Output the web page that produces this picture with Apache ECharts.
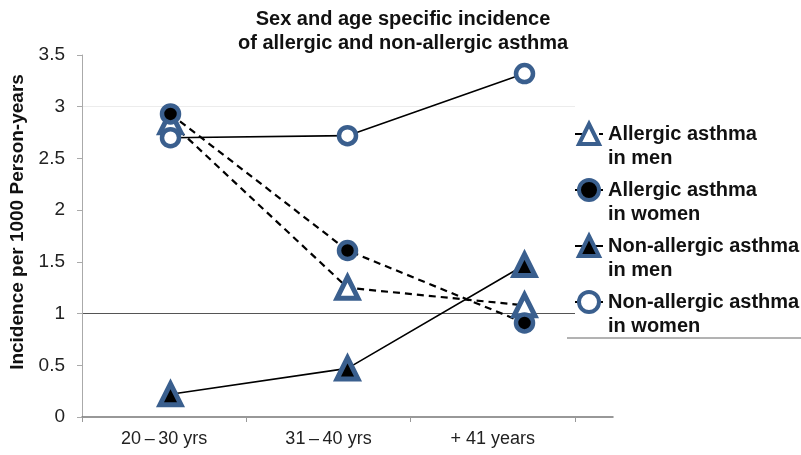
<!DOCTYPE html>
<html>
<head>
<meta charset="utf-8">
<script src="https://cdn.jsdelivr.net/npm/echarts@6/dist/echarts.min.js"></script>
<style>html,body{margin:0;padding:0;background:#fff}#c{width:801px;height:455px}</style>
</head>
<body>
<div id="c"></div>
<script>
const categories = ['20\u2009\u2013\u200930 yrs', '31\u2009\u2013\u200940 yrs', '+ 41 years'];
const allergicMen = [2.85, 1.25, 1.08];
const allergicWomen = [2.93, 1.61, 0.91];
const nonAllergicMen = [0.22, 0.47, 1.47];
const nonAllergicWomen = [2.70, 2.72, 3.32];
const seriesNames = ['Allergic asthma in men', 'Allergic asthma in women', 'Non-allergic asthma in men', 'Non-allergic asthma in women'];
const legendLines = {
  'Allergic asthma in men': ['Allergic asthma', 'in men'],
  'Allergic asthma in women': ['Allergic asthma', 'in women'],
  'Non-allergic asthma in men': ['Non-allergic asthma', 'in men'],
  'Non-allergic asthma in women': ['Non-allergic asthma', 'in women']
};

const BLUE = '#3a5f8e';
const FONT = '"Liberation Sans", Arial, sans-serif';
const chart = echarts.init(document.getElementById('c'));

function mk(name, data, symbol, fill, dashed) {
  return {
    name: name,
    type: 'line',
    xAxisIndex: 1,
    yAxisIndex: 1,
    data: data,
    symbol: symbol,
    symbolSize: symbol === 'circle' ? 17 : 21,
    showSymbol: true,
    lineStyle: { color: '#000', width: dashed ? 2.2 : 1.6, type: dashed ? [7, 5] : 'solid' },
    itemStyle: { color: fill, borderColor: BLUE, borderWidth: symbol === 'circle' ? 4.5 : 5 },
    emphasis: { disabled: true },
    animation: false
  };
}

const legendText = { fontFamily: FONT, fontSize: 20, fontWeight: 'bold', color: '#111', lineHeight: 24 };

chart.setOption({
  animation: false,
  title: {
    text: 'Sex and age specific incidence\nof allergic and non-allergic asthma',
    left: 398, textAlign: 'center', top: 2,
    textStyle: { fontFamily: FONT, fontSize: 20, fontWeight: 'bold', color: '#111', lineHeight: 24 }
  },
  grid: [
    { left: 82, top: 55, width: 493, height: 362 },
    { left: 82, top: 55, width: 531, height: 362 }
  ],
  xAxis: [
    {
      gridIndex: 0, type: 'category', data: categories,
      axisLine: { show: false },
      axisTick: { show: true, length: 5, inside: false, lineStyle: { color: '#999' } },
      axisLabel: { margin: 13, fontFamily: FONT, fontSize: 18, color: '#222' },
      splitLine: { show: false }
    },
    {
      gridIndex: 1, type: 'category', data: categories,
      axisLine: { show: true, lineStyle: { color: '#777', width: 1.5 } },
      axisTick: { show: false },
      axisLabel: { show: false },
      splitLine: { show: false }
    }
  ],
  yAxis: [
    {
      gridIndex: 0, type: 'value', min: 0, max: 3.5, interval: 0.5,
      name: 'Incidence per 1000 Person-years',
      nameLocation: 'middle', nameGap: 55, nameRotate: 90,
      nameTextStyle: { fontFamily: FONT, fontSize: 19, fontWeight: 'bold', color: '#111', padding: [0, 0, 0, 28] },
      axisLine: { show: true, lineStyle: { color: '#aaa', width: 1 } },
      axisTick: { show: true, length: 5, lineStyle: { color: '#aaa' } },
      axisLabel: { margin: 17, fontFamily: FONT, fontSize: 19, color: '#222' },
      splitLine: { show: true, lineStyle: { color: ['rgba(0,0,0,0)', 'rgba(0,0,0,0)', '#555', 'rgba(0,0,0,0)', 'rgba(0,0,0,0)', 'rgba(0,0,0,0)', '#ececec', 'rgba(0,0,0,0)'], width: 1 } }
    },
    { gridIndex: 1, type: 'value', min: 0, max: 3.5, interval: 0.5, show: false, splitLine: { show: false } }
  ],
  legend: {
    orient: 'vertical',
    left: 569, top: 93,
    itemWidth: 28, itemHeight: 25, itemGap: -16,
    textGap: 4,
    data: seriesNames,
    itemStyle: { borderWidth: 4 },
    formatter: n => '{s| }\n{t|' + legendLines[n][0] + '}\n{t|' + legendLines[n][1] + '}',
    textStyle: Object.assign({}, legendText, {
      rich: { s: { lineHeight: 24, fontSize: 10 }, t: legendText }
    }),
    selectedMode: false
  },
  graphic: [
    { type: 'line', shape: { x1: 567, y1: 338, x2: 801, y2: 338 }, style: { stroke: '#666', lineWidth: 1 } }
  ],
  series: [
    mk(seriesNames[0], allergicMen, 'triangle', '#fff', true),
    mk(seriesNames[1], allergicWomen, 'circle', '#000', true),
    mk(seriesNames[2], nonAllergicMen, 'triangle', '#000', false),
    mk(seriesNames[3], nonAllergicWomen, 'circle', '#fff', false)
  ]
});
</script>
</body>
</html>
